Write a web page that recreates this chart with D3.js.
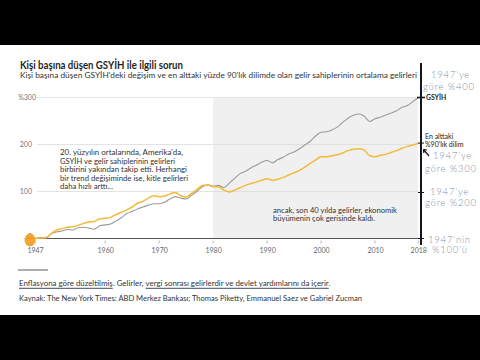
<!DOCTYPE html>
<html><head><meta charset="utf-8">
<script src="https://cdn.jsdelivr.net/npm/d3@7"></script>
<style>
html,body{margin:0;padding:0;background:#000;}
svg{display:block;}
</style></head>
<body>
<svg id="c" width="480" height="360"></svg>
<script>
const years = [1947,1948,1949,1950,1951,1952,1953,1954,1955,1956,1957,1958,1959,1960,1961,1962,1963,1964,1965,1966,1967,1968,1969,1970,1971,1972,1973,1974,1975,1976,1977,1978,1979,1980,1981,1982,1983,1984,1985,1986,1987,1988,1989,1990,1991,1992,1993,1994,1995,1996,1997,1998,1999,2000,2001,2002,2003,2004,2005,2006,2007,2008,2009,2010,2011,2012,2013,2014,2015,2016,2017,2018];
const gdpChange = [0,2,0,10,14,16,19,18,23,24,22,20,27,29,31,37,44,53,58,63,67,71,74,74,77,84,89,86,84,92,100,110,114,111,113,108,118,128,138,143,150,156,162,166,161,168,173,180,184,191,199,207,218,226,227,231,237,247,256,262,265,260,249,255,258,263,267,272,279,283,291,300];
const bottom90Change = [0,1,2,10,18,21,24,25,28,32,35,36,42,43,45,51,56,61,67,75,79,86,91,89,90,95,98,91,88,96,104,113,114,110,110,103,99,103,108,113,117,120,124,127,124,126,130,135,140,145,152,160,167,174,174,176,178,182,187,190,191,188,176,174,177,179,183,187,192,196,199,203];
const xTicks = [1947,1960,1970,1980,1990,2000,2010,2018];
const yTicks = [0,100,200,300];
const yTickLabels = ["0","100","200","%300"];
const shadeRange = [1980,2018];

const title = "Kişi başına düşen GSYİH ile ilgili sorun";
const subtitle = "Kişi başına düşen GSYİH'deki değişim ve en alttaki yüzde 90'lık dilimde olan gelir sahiplerinin ortalama gelirleri";
const noteLeft = ["20. yüzyılın ortalarında, Amerika'da,","GSYİH ve gelir sahiplerinin gelirleri","birbirini yakından takip etti. Herhangi","bir trend değişiminde ise, kitle gelirleri","daha hızlı arttı..."];
const noteLeftWidths = [123,115,127,128,53];
const noteRight = ["ancak, son 40 yılda gelirler, ekonomik","büyümenin çok gerisinde kaldı."];
const noteRightWidths = [124,102];
const footParts = [
  {t:"Enflasyona göre düzeltilmiş", u:true},
  {t:". Gelirler, ", u:false},
  {t:"vergi sonrası gelirlerdir ve devlet yardımlarını da içerir", u:true},
  {t:".", u:false}
];
const source = "Kaynak: The New York Times: ABD Merkez Bankası; Thomas Piketty, Emmanuel Saez ve Gabriel Zucman";
const hand = [
  {t:"1947'ye", x:431, y:78},
  {t:"göre %400", x:423, y:90},
  {t:"1947'ye", x:433, y:159},
  {t:"göre %300", x:425, y:172},
  {t:"1947'ye", x:430, y:195},
  {t:"göre %200", x:425, y:206},
  {t:"1947'nin", x:428, y:243},
  {t:"%100'ü", x:432, y:253}
];

const svg = d3.select("#c");
const FONT = "Lato, 'Open Sans', sans-serif";

svg.append("rect").attr("x",0).attr("y",45).attr("width",480).attr("height",270).attr("fill","#fff");

const x = d3.scaleLinear().domain([1947,2018]).range([35,418.2]);
const y = d3.scaleLinear().domain([0,300]).range([238.5,97.5]);

function squeeze(sel, target){
  const w = sel.node().getComputedTextLength();
  if (w > target) sel.attr("textLength", target).attr("lengthAdjust","spacingAndGlyphs");
  return sel;
}

// title & subtitle
squeeze(svg.append("text").attr("x",20).attr("y",68.5).attr("font-family",FONT).attr("font-weight","bold")
  .attr("font-size",11).attr("fill","#1f1f1f").text(title),163);
squeeze(svg.append("text").attr("x",20).attr("y",77.5).attr("font-family",FONT)
  .attr("font-size",8.4).attr("fill","#333").text(subtitle),397);

// shaded region
svg.append("rect").attr("x",x(shadeRange[0])).attr("y",y(300)).attr("width",x(shadeRange[1])-x(shadeRange[0]))
  .attr("height",y(0)-y(300)).attr("fill","#f0f0f0");

// gridlines
svg.append("g").selectAll("line").data(yTicks.filter(d=>d>0)).join("line")
  .attr("x1",37).attr("x2",x(2018)).attr("y1",d=>y(d)).attr("y2",d=>y(d))
  .attr("stroke","#dcdcdc").attr("stroke-width",0.8);

// y labels
svg.append("g").selectAll("text").data(yTicks).join("text")
  .attr("x",d=>d===300?36:32).attr("y",d=>y(d)+(d===0?-1.5:0)).attr("dy","0.35em").attr("text-anchor","end")
  .attr("font-family",FONT).attr("font-size",7).attr("fill","#777")
  .text((d,i)=>yTickLabels[i]);

// x axis
const xAxis = d3.axisBottom(x).tickValues(xTicks).tickFormat(d3.format("d")).tickSize(0).tickPadding(10);
const gx = svg.append("g").attr("transform",`translate(0,${y(0)})`).call(xAxis);
gx.select(".domain").remove();
gx.selectAll("text").attr("font-family",FONT).attr("font-size",7).attr("fill","#666");
svg.append("line").attr("x1",27).attr("x2",421).attr("y1",y(0)).attr("y2",y(0)).attr("stroke","#555").attr("stroke-width",1);
svg.append("g").selectAll("line").data(xTicks).join("line")
  .attr("x1",d=>x(d)).attr("x2",d=>x(d)).attr("y1",y(0)+2).attr("y2",y(0)+5)
  .attr("stroke","#999").attr("stroke-width",0.7);

// lines
const line = d3.line().x((d,i)=>x(years[i])).y(d=>y(d)).curve(d3.curveMonotoneX);
svg.append("path").datum(gdpChange).attr("d",line).attr("fill","none").attr("stroke","#9b9b9b").attr("stroke-width",1.1);
svg.append("path").datum(bottom90Change).attr("d",line).attr("fill","none").attr("stroke","#f4b939").attr("stroke-width",1.5);

// annotations
svg.append("g").selectAll("text").data(noteLeft).join("text")
  .attr("x",60).attr("y",(d,i)=>155+i*8.5).attr("font-family",FONT).attr("font-size",8.2).attr("fill","#333").text(d=>d)
  .each(function(d,i){ squeeze(d3.select(this), noteLeftWidths[i]); });
svg.append("g").selectAll("text").data(noteRight).join("text")
  .attr("x",273).attr("y",(d,i)=>212.5+i*8.6).attr("font-family",FONT).attr("font-size",7.8).attr("fill","#333").text(d=>d)
  .each(function(d,i){ squeeze(d3.select(this), noteRightWidths[i]); });

// footer
svg.append("line").attr("x1",18).attr("x2",48).attr("y1",270).attr("y2",270).attr("stroke","#333").attr("stroke-width",0.8);
{
  let cx = 19;
  footParts.forEach(p=>{
    const t = svg.append("text").attr("x",cx).attr("y",285.5).attr("font-family",FONT).attr("font-size",7.9)
      .attr("fill","#333").attr("xml:space","preserve").style("white-space","pre").text(p.t);
    const w = t.node().getComputedTextLength();
    if (p.u) svg.append("line").attr("x1",cx).attr("x2",cx+w).attr("y1",288.3).attr("y2",288.3)
      .attr("stroke","#2a3550").attr("stroke-width",0.9);
    cx += w;
  });
}
squeeze(svg.append("text").attr("x",19).attr("y",300.5).attr("font-family",FONT).attr("font-size",7.9).attr("fill","#333").text(source),343);

// hand-drawn right side
svg.append("line").attr("x1",421).attr("x2",421).attr("y1",63).attr("y2",245).attr("stroke","#14141e").attr("stroke-width",2);
svg.append("line").attr("x1",417).attr("x2",425).attr("y1",y(300)).attr("y2",y(300)).attr("stroke","#14141e").attr("stroke-width",1.6);
[y(203), y(100)+1, y(0)].forEach(yy=>{
  svg.append("line").attr("x1",418).attr("x2",424).attr("y1",yy).attr("y2",yy).attr("stroke","#14141e").attr("stroke-width",1);
});
svg.append("text").attr("x",426).attr("y",100).attr("font-family",FONT).attr("font-weight","bold").attr("font-size",6.8).attr("fill","#222").text("GSYİH");
svg.append("text").attr("x",425).attr("y",138.5).attr("font-family",FONT).attr("font-size",7).attr("fill","#222").text("En alttaki");
svg.append("text").attr("x",425).attr("y",146.5).attr("font-family",FONT).attr("font-size",7).attr("fill","#222").text("%90'lık dilim");
svg.append("path").attr("d","M429,156 L423.5,149.5 M423.5,149.5 L423.8,153 M423.5,149.5 L427,150").attr("stroke","#14141e").attr("stroke-width",1.2).attr("fill","none");
svg.append("g").selectAll("text").data(hand).join("text")
  .attr("x",d=>d.x).attr("y",d=>d.y).attr("font-family",FONT).attr("font-weight",300)
  .attr("font-size",9.5).attr("letter-spacing",0.8).attr("fill","#8091aa").text(d=>d.t);

// orange highlight blob at origin
svg.append("ellipse").attr("cx",30).attr("cy",240).attr("rx",5.5).attr("ry",6.5).attr("fill","#f29d1f").attr("opacity",0.9);
</script>
</body></html>
